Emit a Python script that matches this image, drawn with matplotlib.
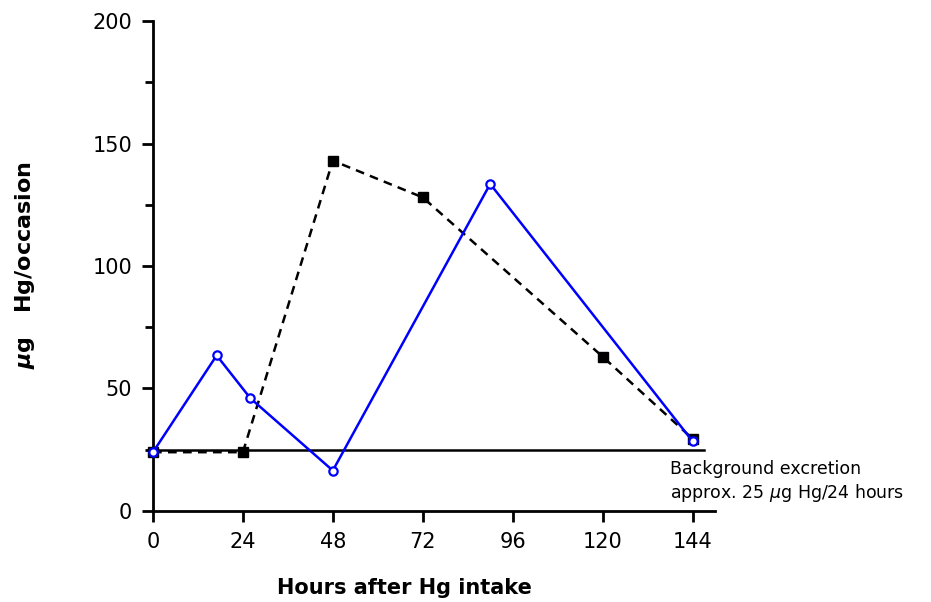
import matplotlib.pyplot as plt
from matplotlib.ticker import MultipleLocator

# dashed series (filled squares)
hours_sq = [0, 24, 48, 72, 120, 144]
hg_sq = [24, 24, 143, 128, 63, 29.5]

# blue series (open circles)
hours_ci = [0, 17, 26, 48, 90, 144]
hg_ci = [24, 63.5, 46, 16.5, 133.5, 28.5]

background = 25
xticks = [0, 24, 48, 72, 96, 120, 144]

fig = plt.figure(figsize=(9.31, 6.02), dpi=100)
ax = fig.add_axes([0.1643, 0.1512, 0.6037, 0.8139])

# background excretion line
ax.plot([0, 147], [background, background], color='black', lw=1.8, zorder=1)

ax.plot(hours_sq, hg_sq, color='black', ls=(0, (3.5, 2.5)), lw=1.8,
        marker='s', ms=7, mfc='black', mec='black', zorder=2, clip_on=False)
ax.plot(hours_ci, hg_ci, color='#0000ff', lw=1.8,
        marker='o', ms=6, mfc='white', mec='#0000ff', mew=1.6, zorder=3, clip_on=False)

ax.set_xlim(0, 150)
ax.set_ylim(0, 200)
ax.set_xticks(xticks)
ax.yaxis.set_major_locator(MultipleLocator(50))
ax.yaxis.set_minor_locator(MultipleLocator(25))

for s in ['top', 'right']:
    ax.spines[s].set_visible(False)
for s in ['left', 'bottom']:
    ax.spines[s].set_linewidth(2)

ax.tick_params(axis='both', which='major', direction='out', length=8, width=2,
               labelsize=15, pad=7)
ax.tick_params(axis='y', which='minor', direction='out', length=6, width=2)

ax.text(138, 17, 'Background excretion', fontsize=12.5, va='center', ha='left')
ax.text(138, 7.5, r'approx. 25 $\mu$g Hg/24 hours', fontsize=12.5, va='center', ha='left')

ax.set_xlabel('Hours after Hg intake', fontsize=15, fontweight='bold')
ax.xaxis.set_label_coords(0.447, -0.157)
ax.set_ylabel(r'$\boldsymbol{\mu}$g   Hg/occasion', fontsize=16, fontweight='bold')
ax.yaxis.set_label_coords(-0.228, 0.502)
ax.yaxis.label.set_va('center')
ax.xaxis.label.set_va('center')

fig.savefig('out.png', dpi=100)
